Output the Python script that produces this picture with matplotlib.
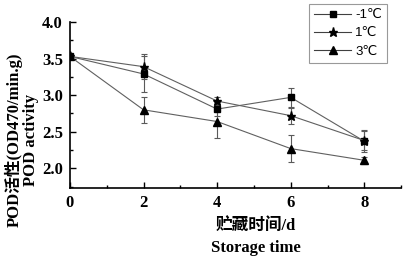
import matplotlib
matplotlib.use("Agg")
import matplotlib.pyplot as plt
from matplotlib.ticker import MultipleLocator
from matplotlib.lines import Line2D

days = [0, 2, 4, 6, 8]
series_labels = ["-1℃", "1℃", "3℃"]
m1 = [3.53, 3.29, 2.81, 2.97, 2.37]
m1_err = [0.0, 0.25, 0.10, 0.13, 0.15]
p1 = [3.53, 3.39, 2.92, 2.72, 2.38]
p1_err = [0.0, 0.17, 0.05, 0.11, 0.13]
p3 = [3.53, 2.80, 2.64, 2.27, 2.11]
p3_err = [0.0, 0.18, 0.22, 0.18, 0.05]

fig = plt.figure(figsize=(4.04, 2.62), dpi=100)
ax = fig.add_axes([0.173, 0.282, 0.82, 0.634])

serif = ["Liberation Serif", "Noto Sans CJK SC", "DejaVu Sans"]
sans = ["Liberation Sans", "DejaVu Sans"]

handles = []
for vals, errs, mk, ms, lab in [(m1, m1_err, "s", 4.5, series_labels[0]),
                                (p1, p1_err, "*", 6.5, series_labels[1]),
                                (p3, p3_err, "^", 5.5, series_labels[2])]:
    ax.errorbar(days, vals, yerr=errs, color="#606060", lw=0.8, marker=mk,
                markersize=ms, markerfacecolor="black", markeredgecolor="black",
                ecolor="#5a5a5a", elinewidth=0.8, capsize=2.5, capthick=0.8)
    handles.append(Line2D([], [], color="#404040", lw=0.8, marker=mk, markersize=ms,
                          markerfacecolor="black", markeredgecolor="black", label=lab))

ax.set_xlim(0, 9)
ax.set_ylim(1.73, 4.0)
ax.xaxis.set_minor_locator(MultipleLocator(1))
ax.yaxis.set_minor_locator(MultipleLocator(0.25))
ax.set_yticks([2.0, 2.5, 3.0, 3.5, 4.0])
ax.set_xticks([0, 2, 4, 6, 8])
ax.tick_params(direction="in", which="major", length=4, width=1.0, pad=5)
ax.tick_params(direction="in", which="minor", length=2.5, width=1.0)
for s in ["top", "right"]:
    ax.spines[s].set_visible(False)
for s in ["left", "bottom"]:
    ax.spines[s].set_linewidth(1.2)
for t in ax.get_xticklabels() + ax.get_yticklabels():
    t.set_fontfamily(serif)
    t.set_fontweight("bold")
    t.set_fontsize(12)

ax.set_ylabel("POD活性(OD470/min.g)\nPOD activity", family=serif, fontweight="bold",
              fontsize=12, linespacing=1.05, labelpad=2)
ax.yaxis.label.set_y(0.29)
ax.set_xlabel("贮藏时间/d\nStorage time", family=serif, fontweight="bold",
              fontsize=12, linespacing=1.35, labelpad=6)
ax.xaxis.label.set_x(0.56)

leg = ax.legend(handles=handles, loc="upper right", bbox_to_anchor=(0.958, 1.11),
                prop={"family": sans, "size": 9.5},
                frameon=True, fancybox=False, edgecolor="#808080", handlelength=2.8,
                labelspacing=0.45, borderpad=0.4, handletextpad=0.3, borderaxespad=0)
leg.get_frame().set_linewidth(0.8)

fig.savefig("out.png", dpi=100)
